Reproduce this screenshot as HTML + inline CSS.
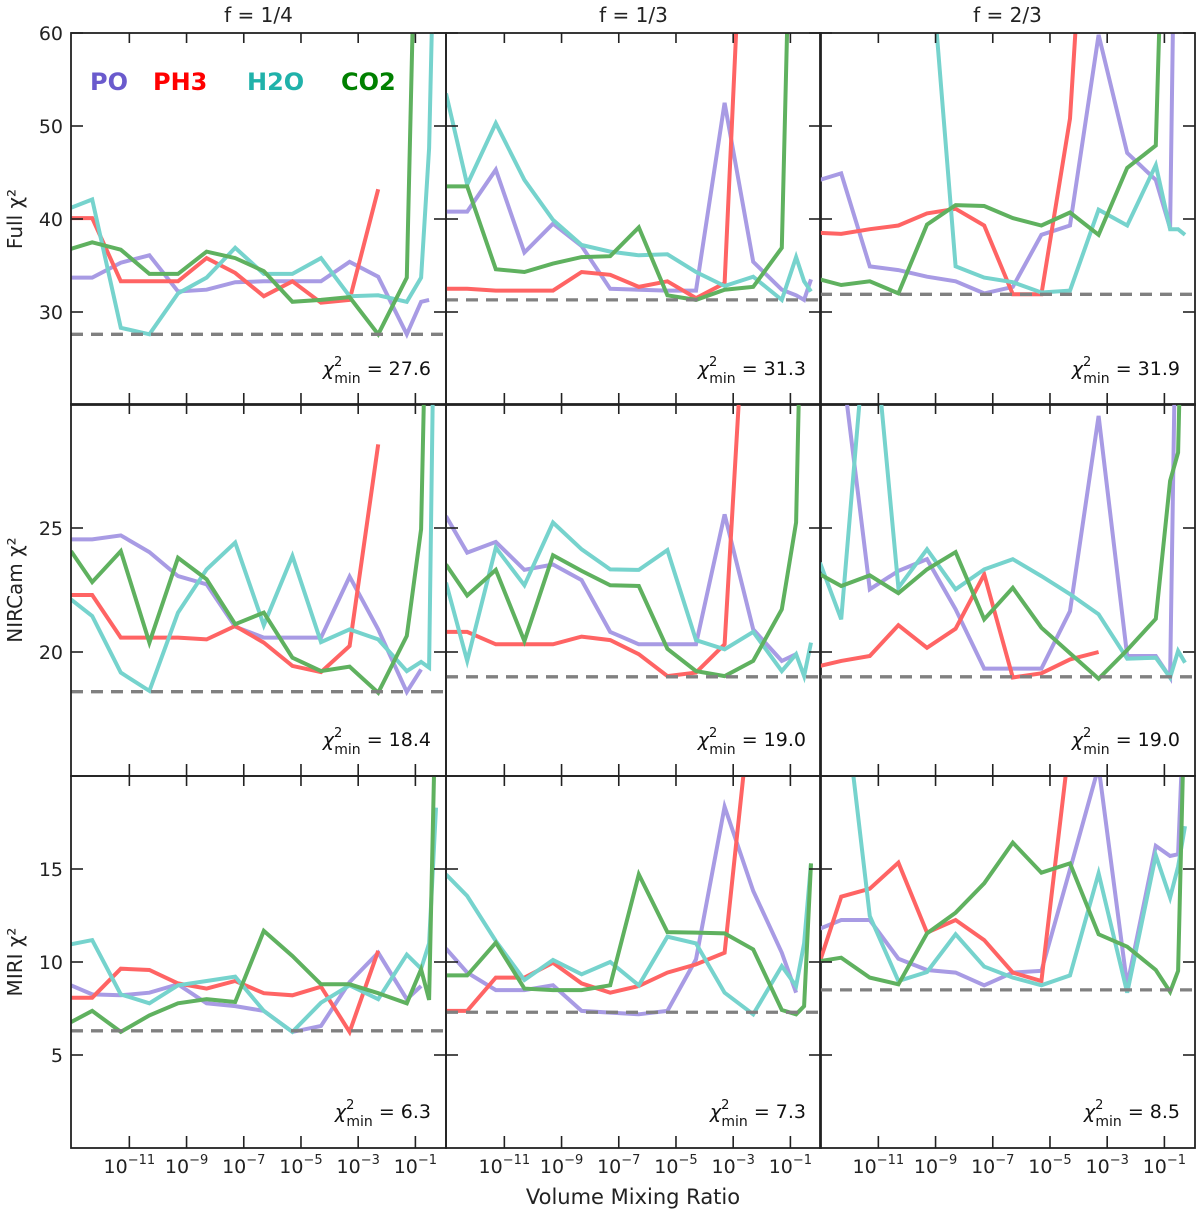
<!DOCTYPE html>
<html><head><meta charset="utf-8"><style>
html,body{margin:0;padding:0;background:#fff;}
svg{display:block;font-family:"DejaVu Sans","Liberation Sans",sans-serif;}
</style></head><body>
<svg id="chart" width="1200" height="1214" viewBox="0 0 1200 1214" xmlns="http://www.w3.org/2000/svg"></svg>
<script>
// ---- data ----
const logVMR = [-13.04,-12.3,-11.3,-10.3,-9.3,-8.3,-7.3,-6.3,-5.3,-4.3,-3.3,-2.3,-1.3,-0.8,-0.52,-0.28];
const colTitles = ["f = 1/4","f = 1/3","f = 2/3"];
const rowTitles = ["Full χ²","NIRCam χ²","MIRI χ²"];
const rowDomains = [[20,60],[15,30],[0,20]];
const rowTicks = [[30,40,50,60],[20,25],[5,10,15]];
const xTickExps = [-11,-9,-7,-5,-3,-1];
const species = ["PO","PH3","H2O","CO2"];
const chiMin = [[27.6,31.3,31.9],[18.4,19.0,19.0],[6.3,7.3,8.5]];
const N=null;
const p1_PO=[33.7,33.7,35.3,36.1,32.2,32.4,33.2,33.3,33.3,33.3,35.4,33.8,27.6,31.1,31.3,N];
const p1_PH3=[40.1,40.1,33.3,33.3,33.3,35.8,34.2,31.7,33.3,31.0,31.3,43.2,N,N,N,N];
const p1_H2O=[41.2,42.1,28.3,27.6,32.0,33.7,36.9,34.1,34.1,35.8,31.7,31.8,31.1,33.7,47.6,80];
const p1_CO2=[36.8,37.5,36.7,34.1,34.1,36.5,35.8,34.4,31.1,31.3,31.6,27.6,33.7,100,N,N];
const p2_PO=[40.8,40.8,45.3,36.4,39.5,37.1,32.5,32.4,32.3,32.3,52.5,35.4,32.4,31.8,31.3,33.5];
const p2_PH3=[32.5,32.5,32.3,32.3,32.3,34.3,34.0,32.7,33.3,31.5,33.1,100,N,N,N,N];
const p2_H2O=[53.5,43.7,50.3,44.2,39.9,37.2,36.5,36.1,36.2,34.3,32.8,33.8,31.3,35.9,33.3,32.2];
const p2_CO2=[43.5,43.5,34.6,34.3,35.2,35.9,36.0,39.1,31.8,31.3,32.4,32.7,36.9,100,N,N];
const p3_PO=[44.2,44.9,34.9,34.5,33.8,33.3,32.0,32.7,38.3,39.3,59.8,47.1,44.2,39.0,100,N];
const p3_PH3=[38.5,38.4,38.9,39.3,40.6,41.1,39.3,31.9,31.9,50.8,100,N,N,N,N,N];
const p3_H2O=[N,N,N,N,73,34.9,33.7,33.2,32.1,32.3,41.0,39.3,45.8,38.9,38.9,38.3];
const p3_CO2=[33.5,32.9,33.3,32.0,39.4,41.5,41.4,40.1,39.3,40.7,38.3,45.5,47.9,100,N,N];
const p4_PO=[24.54,24.54,24.70,24.03,23.06,22.73,21.02,20.58,20.58,20.58,23.04,20.91,18.39,19.30,N,N];
const p4_PH3=[22.30,22.30,20.58,20.58,20.58,20.51,21.05,20.38,19.44,19.19,20.24,28.37,N,N,N,N];
const p4_H2O=[22.12,21.45,19.17,18.43,21.59,23.33,24.41,21.08,23.87,20.40,20.91,20.51,19.23,19.60,19.37,40];
const p4_CO2=[24.07,22.82,24.07,20.38,23.80,22.93,21.12,21.59,19.77,19.23,19.41,18.36,20.65,24.95,40,N];
const p5_PO=[25.48,24.01,24.44,23.31,23.53,22.90,20.81,20.31,20.31,20.31,25.55,20.91,19.64,19.91,N,N];
const p5_PH3=[20.81,20.81,20.31,20.31,20.31,20.62,20.48,19.91,19.03,19.17,20.31,40,N,N,N,N];
const p5_H2O=[22.80,19.64,24.21,22.69,25.22,24.14,23.33,23.31,24.11,20.48,20.11,20.81,19.23,19.91,19.03,20.38];
const p5_CO2=[23.53,22.28,23.31,20.44,23.90,23.27,22.69,22.66,20.13,19.23,19.03,19.64,21.72,25.22,40,N];
const p6_PO=[38,31.9,22.53,23.27,23.74,21.72,19.33,19.33,19.33,21.65,29.52,19.84,19.84,18.97,40,N];
const p6_PH3=[19.44,19.64,19.84,21.08,20.17,20.94,23.13,18.97,19.14,19.70,20.0,N,N,N,N,N];
const p6_H2O=[23.60,21.32,35,22.59,24.14,22.53,23.33,23.74,23.06,22.33,21.52,19.73,19.77,18.97,20.04,19.57];
const p6_CO2=[23.13,22.66,23.09,22.37,23.33,24.03,21.32,22.59,20.98,19.95,18.92,20.08,21.34,26.90,28.04,40];
const p7_PO=[8.75,8.26,8.21,8.35,8.80,7.78,7.63,7.37,6.24,6.56,8.92,10.5,8.0,8.71,N,N];
const p7_PH3=[8.08,8.08,9.64,9.57,8.85,8.57,8.98,8.32,8.21,8.67,6.24,10.6,N,N,N,N];
const p7_H2O=[10.95,11.18,8.26,7.78,8.75,8.98,9.21,7.37,6.24,7.81,8.75,8.0,10.4,9.64,11.0,18.3];
const p7_CO2=[6.77,7.37,6.24,7.13,7.78,8.0,7.85,11.67,10.32,8.80,8.80,8.32,7.78,9.61,7.96,25];
const p8_PO=[10.72,9.43,8.49,8.49,8.75,7.37,7.28,7.19,7.37,10.14,18.35,13.82,10.5,8.35,N,N];
const p8_PH3=[7.37,7.37,9.16,9.16,9.96,8.85,8.35,8.71,9.43,9.87,10.5,25,N,N,N,N];
const p8_H2O=[14.71,13.55,11.13,9.03,10.11,9.34,10.0,8.75,11.36,11.0,8.35,7.19,9.78,8.71,11.0,15.3];
const p8_CO2=[9.28,9.28,11.04,8.57,8.49,8.49,8.75,14.71,11.61,11.58,11.54,10.68,7.42,7.19,7.63,15.3];
const p9_PO=[11.79,12.26,12.26,10.18,9.57,9.43,8.75,9.43,9.52,14.98,20.5,8.75,16.24,15.70,15.79,25];
const p9_PH3=[10.05,13.51,13.94,15.34,11.58,12.26,11.18,9.43,8.98,22,N,N,N,N,N,N];
const p9_H2O=[30,25.6,12.47,8.98,9.46,11.49,9.75,9.16,8.75,9.28,14.77,8.35,15.73,13.46,15.13,17.3];
const p9_CO2=[10.05,10.23,9.16,8.80,11.54,12.65,14.23,16.42,14.80,15.30,11.49,10.82,9.57,8.39,9.52,25];
const panelSeries=[
 [p1_PO,p1_PH3,p1_H2O,p1_CO2],[p2_PO,p2_PH3,p2_H2O,p2_CO2],[p3_PO,p3_PH3,p3_H2O,p3_CO2],
 [p4_PO,p4_PH3,p4_H2O,p4_CO2],[p5_PO,p5_PH3,p5_H2O,p5_CO2],[p6_PO,p6_PH3,p6_H2O,p6_CO2],
 [p7_PO,p7_PH3,p7_H2O,p7_CO2],[p8_PO,p8_PH3,p8_H2O,p8_CO2],[p9_PO,p9_PH3,p9_H2O,p9_CO2]];

// ---- layout ----
const colX=[71,446,820], W=375, rowY=[33,404,776], H=372;
const xDom=[-13.04,0.07];
const lineColors=["#a89be4","#ff6464","#76d3cd","#5fb15f"];
const legColors=["#6a5acd","#ff0000","#20b2aa","#008000"];
const NS="http://www.w3.org/2000/svg";
const svg=document.getElementById('chart');
function mk(tag,attrs,parent){const e=document.createElementNS(NS,tag);for(const k in attrs)e.setAttribute(k,attrs[k]);(parent||svg).appendChild(e);return e;}
function xs(c,v){return colX[c]+(v-xDom[0])/(xDom[1]-xDom[0])*W;}
function ys(r,v){const d=rowDomains[r];return rowY[r]+H-(v-d[0])/(d[1]-d[0])*H;}

const defs=mk('defs',{});
for(let r=0;r<3;r++)for(let c=0;c<3;c++){
  const cp=mk('clipPath',{id:'clip'+r+c},defs);
  mk('rect',{x:colX[c],y:rowY[r],width:W,height:H},cp);
  const g=mk('g',{'clip-path':'url(#clip'+r+c+')'});
  
  
  const ser=panelSeries[r*3+c];
  for(let s=0;s<4;s++){
    let d='',pen=false;
    ser[s].forEach((v,i)=>{ if(v===null){pen=false;return;} d+=(pen?'L':'M')+xs(c,logVMR[i]).toFixed(1)+','+ys(r,v).toFixed(1); pen=true;});
    const p=mk('path',{d:d,fill:'none',stroke:lineColors[s],'stroke-width':4,'stroke-linejoin':'miter'},g);
    
    
  }
  const yl=ys(r,chiMin[r][c]);
  const dl=mk('line',{x1:colX[c],x2:colX[c]+W,y1:yl,y2:yl,stroke:'#808080','stroke-width':3.3,'stroke-dasharray':'12,8'},g);
  
  
  const fr=mk('rect',{x:colX[c],y:rowY[r],width:W,height:H,fill:'none',stroke:'#222','stroke-width':1.8});
  
  
  rowTicks[r].forEach(t=>{
    const y=ys(r,t);
    const t1=mk('line',{x1:colX[c],x2:colX[c]+12,y1:y,y2:y,stroke:'#222','stroke-width':1.6});
    
    
    const t2=mk('line',{x1:colX[c]+W-12,x2:colX[c]+W,y1:y,y2:y,stroke:'#222','stroke-width':1.6});
    
    
    if(c===0){
      const tl=mk('text',{x:colX[0]-8,y:y+7,'text-anchor':'end','font-size':19,fill:'#222'});
      tl.textContent=t;
      
      
    }
  });
  xTickExps.forEach(e=>{
    const x=xs(c,e);
    const b=mk('line',{x1:x,x2:x,y1:rowY[r]+H-12,y2:rowY[r]+H,stroke:'#222','stroke-width':1.6});
    
    
    const tp=mk('line',{x1:x,x2:x,y1:rowY[r],y2:rowY[r]+10,stroke:'#222','stroke-width':1.6});
    
    
    if(r===2){
      const tl=mk('text',{x:x,y:1173,'text-anchor':'middle','font-size':19,fill:'#222'});
      
      
      const a=mk('tspan',{},tl);a.textContent='10';
      const b2=mk('tspan',{dy:-9,'font-size':13},tl);b2.textContent='−'+(-e);
    }
  });
  const ct=mk('text',{x:colX[c]+360,y:rowY[r]+342,'text-anchor':'end','font-size':19,fill:'#111'});
  
  
  const a1=mk('tspan',{'font-style':'italic'},ct);a1.textContent='χ';
  const a2=mk('tspan',{dy:-9,'font-size':13},ct);a2.textContent='2';
  const a3=mk('tspan',{dx:-8,dy:17,'font-size':14},ct);a3.textContent='min';
  const a4=mk('tspan',{dy:-8},ct);a4.textContent=' = '+chiMin[r][c].toFixed(1);
}
colTitles.forEach((t,c)=>{
  const e=mk('text',{x:colX[c]+W/2,y:22,'text-anchor':'middle','font-size':20,fill:'#222'});
  e.textContent=t;
  
  
});
rowTitles.forEach((t,r)=>{
  const cy=rowY[r]+H/2;
  const e=mk('text',{x:22,y:cy,'text-anchor':'middle','font-size':20,fill:'#222',transform:'rotate(-90 22 '+cy+')'});
  e.textContent=t;
  
  
});
const xl=mk('text',{x:633,y:1204,'text-anchor':'middle','font-size':21,fill:'#222'});
xl.textContent='Volume Mixing Ratio';


const legX=[90,153,247,341];
species.forEach((s,i)=>{
  const e=mk('text',{x:legX[i],y:90,'font-size':24,'font-weight':'bold',fill:legColors[i]});
  e.textContent=s;
  
  
});
</script>
</body></html>
